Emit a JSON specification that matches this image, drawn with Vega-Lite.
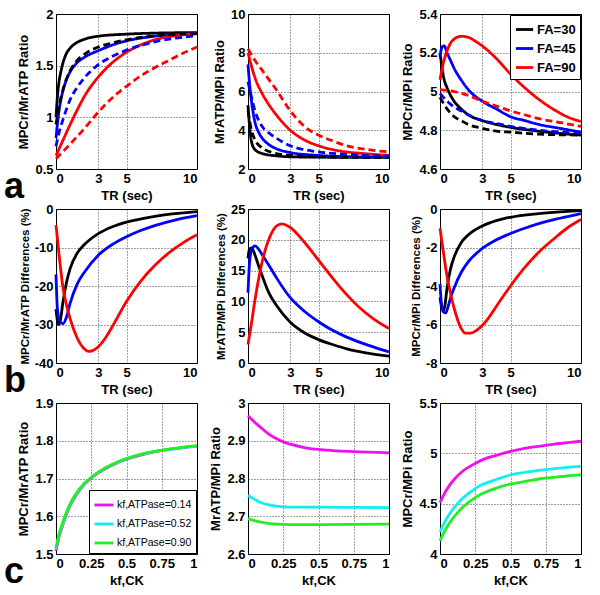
{
"$schema":"https://vega.github.io/schema/vega-lite/v6.json",
"padding":{"left":3,"top":7,"right":5,"bottom":3},
"background":"white",
"config":{
 "view":{"stroke":"black","strokeWidth":1},
 "axis":{"grid":true,"gridDash":[1,2],"gridColor":"black","gridOpacity":0.75,"gridWidth":1,"domain":false,"ticks":false,"labelFont":"Liberation Sans","labelFontSize":13,"labelFontWeight":"bold","labelColor":"black","labelPadding":3,"titleFont":"Liberation Sans","titleFontSize":13,"titleFontWeight":"bold","titleColor":"black","titlePadding":4,"labelExpr":"'' + datum.value"},
 "legend":{"strokeColor":"black","fillColor":"white","padding":4,"labelFont":"Liberation Sans","labelFontSize":13,"labelFontWeight":"bold","labelColor":"black","symbolType":"stroke","symbolStrokeWidth":2.2,"symbolSize":300,"rowPadding":1,"labelOffset":2,"offset":1},
 "line":{"strokeWidth":2.8,"interpolate":"monotone","clip":true}
},
"datasets":{
"a1":[
{"x":0,"y":1.0,"s":"FA=30","d":"s"},{"x":0.1,"y":1.2,"s":"FA=30","d":"s"},{"x":0.2,"y":1.33,"s":"FA=30","d":"s"},{"x":0.36,"y":1.45,"s":"FA=30","d":"s"},{"x":0.5,"y":1.53,"s":"FA=30","d":"s"},{"x":0.71,"y":1.61,"s":"FA=30","d":"s"},{"x":1,"y":1.67,"s":"FA=30","d":"s"},{"x":1.43,"y":1.72,"s":"FA=30","d":"s"},{"x":2,"y":1.755,"s":"FA=30","d":"s"},{"x":3,"y":1.785,"s":"FA=30","d":"s"},{"x":5,"y":1.805,"s":"FA=30","d":"s"},{"x":7,"y":1.815,"s":"FA=30","d":"s"},{"x":10,"y":1.82,"s":"FA=30","d":"s"},
{"x":0,"y":0.8,"s":"FA=45","d":"s"},{"x":0.2,"y":1.05,"s":"FA=45","d":"s"},{"x":0.36,"y":1.18,"s":"FA=45","d":"s"},{"x":0.5,"y":1.26,"s":"FA=45","d":"s"},{"x":0.7,"y":1.35,"s":"FA=45","d":"s"},{"x":1,"y":1.44,"s":"FA=45","d":"s"},{"x":1.43,"y":1.52,"s":"FA=45","d":"s"},{"x":2,"y":1.58,"s":"FA=45","d":"s"},{"x":3,"y":1.645,"s":"FA=45","d":"s"},{"x":4,"y":1.7,"s":"FA=45","d":"s"},{"x":5,"y":1.74,"s":"FA=45","d":"s"},{"x":7,"y":1.785,"s":"FA=45","d":"s"},{"x":10,"y":1.81,"s":"FA=45","d":"s"},
{"x":0,"y":0.63,"s":"FA=90","d":"s"},{"x":0.5,"y":0.78,"s":"FA=90","d":"s"},{"x":1,"y":0.93,"s":"FA=90","d":"s"},{"x":1.5,"y":1.07,"s":"FA=90","d":"s"},{"x":2,"y":1.2,"s":"FA=90","d":"s"},{"x":3,"y":1.39,"s":"FA=90","d":"s"},{"x":4,"y":1.53,"s":"FA=90","d":"s"},{"x":5,"y":1.63,"s":"FA=90","d":"s"},{"x":6,"y":1.7,"s":"FA=90","d":"s"},{"x":7,"y":1.75,"s":"FA=90","d":"s"},{"x":8.5,"y":1.79,"s":"FA=90","d":"s"},{"x":10,"y":1.81,"s":"FA=90","d":"s"},
{"x":0,"y":0.93,"s":"FA=30","d":"d"},{"x":0.25,"y":1.13,"s":"FA=30","d":"d"},{"x":0.5,"y":1.27,"s":"FA=30","d":"d"},{"x":1,"y":1.45,"s":"FA=30","d":"d"},{"x":1.5,"y":1.55,"s":"FA=30","d":"d"},{"x":2,"y":1.61,"s":"FA=30","d":"d"},{"x":3,"y":1.68,"s":"FA=30","d":"d"},{"x":4,"y":1.72,"s":"FA=30","d":"d"},{"x":5,"y":1.75,"s":"FA=30","d":"d"},{"x":7,"y":1.79,"s":"FA=30","d":"d"},{"x":10,"y":1.81,"s":"FA=30","d":"d"},
{"x":0,"y":0.72,"s":"FA=45","d":"d"},{"x":0.25,"y":0.87,"s":"FA=45","d":"d"},{"x":0.5,"y":0.98,"s":"FA=45","d":"d"},{"x":1,"y":1.17,"s":"FA=45","d":"d"},{"x":1.5,"y":1.29,"s":"FA=45","d":"d"},{"x":2,"y":1.38,"s":"FA=45","d":"d"},{"x":3,"y":1.51,"s":"FA=45","d":"d"},{"x":4,"y":1.59,"s":"FA=45","d":"d"},{"x":5,"y":1.65,"s":"FA=45","d":"d"},{"x":7,"y":1.73,"s":"FA=45","d":"d"},{"x":10,"y":1.79,"s":"FA=45","d":"d"},
{"x":0,"y":0.6,"s":"FA=90","d":"d"},{"x":1,"y":0.74,"s":"FA=90","d":"d"},{"x":2,"y":0.89,"s":"FA=90","d":"d"},{"x":3,"y":1.05,"s":"FA=90","d":"d"},{"x":4,"y":1.19,"s":"FA=90","d":"d"},{"x":5,"y":1.3,"s":"FA=90","d":"d"},{"x":6,"y":1.4,"s":"FA=90","d":"d"},{"x":7,"y":1.48,"s":"FA=90","d":"d"},{"x":8,"y":1.55,"s":"FA=90","d":"d"},{"x":9,"y":1.62,"s":"FA=90","d":"d"},{"x":10,"y":1.68,"s":"FA=90","d":"d"}
],
"a2":[
{"x":0,"y":5.3,"s":"FA=30","d":"s"},{"x":0.1,"y":4.3,"s":"FA=30","d":"s"},{"x":0.25,"y":3.4,"s":"FA=30","d":"s"},{"x":0.5,"y":3.0,"s":"FA=30","d":"s"},{"x":1,"y":2.8,"s":"FA=30","d":"s"},{"x":2,"y":2.68,"s":"FA=30","d":"s"},{"x":3,"y":2.63,"s":"FA=30","d":"s"},{"x":5,"y":2.61,"s":"FA=30","d":"s"},{"x":10,"y":2.6,"s":"FA=30","d":"s"},
{"x":0,"y":7.4,"s":"FA=45","d":"s"},{"x":0.1,"y":6.5,"s":"FA=45","d":"s"},{"x":0.25,"y":5.5,"s":"FA=45","d":"s"},{"x":0.5,"y":4.4,"s":"FA=45","d":"s"},{"x":0.75,"y":3.9,"s":"FA=45","d":"s"},{"x":1,"y":3.6,"s":"FA=45","d":"s"},{"x":1.5,"y":3.25,"s":"FA=45","d":"s"},{"x":2,"y":3.05,"s":"FA=45","d":"s"},{"x":3,"y":2.85,"s":"FA=45","d":"s"},{"x":5,"y":2.7,"s":"FA=45","d":"s"},{"x":7,"y":2.64,"s":"FA=45","d":"s"},{"x":10,"y":2.62,"s":"FA=45","d":"s"},
{"x":0,"y":8.0,"s":"FA=90","d":"s"},{"x":0.25,"y":7.3,"s":"FA=90","d":"s"},{"x":0.5,"y":6.7,"s":"FA=90","d":"s"},{"x":1,"y":5.9,"s":"FA=90","d":"s"},{"x":1.5,"y":5.3,"s":"FA=90","d":"s"},{"x":2,"y":4.8,"s":"FA=90","d":"s"},{"x":3,"y":4.0,"s":"FA=90","d":"s"},{"x":4,"y":3.5,"s":"FA=90","d":"s"},{"x":5,"y":3.2,"s":"FA=90","d":"s"},{"x":6,"y":3.0,"s":"FA=90","d":"s"},{"x":7,"y":2.88,"s":"FA=90","d":"s"},{"x":8.5,"y":2.78,"s":"FA=90","d":"s"},{"x":10,"y":2.7,"s":"FA=90","d":"s"},
{"x":0,"y":5.0,"s":"FA=30","d":"d"},{"x":0.25,"y":4.0,"s":"FA=30","d":"d"},{"x":0.5,"y":3.5,"s":"FA=30","d":"d"},{"x":1,"y":3.1,"s":"FA=30","d":"d"},{"x":2,"y":2.8,"s":"FA=30","d":"d"},{"x":3,"y":2.7,"s":"FA=30","d":"d"},{"x":5,"y":2.63,"s":"FA=30","d":"d"},{"x":10,"y":2.6,"s":"FA=30","d":"d"},
{"x":0,"y":6.5,"s":"FA=45","d":"d"},{"x":0.25,"y":5.7,"s":"FA=45","d":"d"},{"x":0.5,"y":5.0,"s":"FA=45","d":"d"},{"x":1,"y":4.2,"s":"FA=45","d":"d"},{"x":1.5,"y":3.85,"s":"FA=45","d":"d"},{"x":2,"y":3.6,"s":"FA=45","d":"d"},{"x":3,"y":3.2,"s":"FA=45","d":"d"},{"x":4,"y":3.0,"s":"FA=45","d":"d"},{"x":5,"y":2.88,"s":"FA=45","d":"d"},{"x":7,"y":2.75,"s":"FA=45","d":"d"},{"x":10,"y":2.67,"s":"FA=45","d":"d"},
{"x":0,"y":8.2,"s":"FA=90","d":"d"},{"x":0.5,"y":7.6,"s":"FA=90","d":"d"},{"x":1,"y":7.1,"s":"FA=90","d":"d"},{"x":1.5,"y":6.6,"s":"FA=90","d":"d"},{"x":2,"y":6.1,"s":"FA=90","d":"d"},{"x":3,"y":5.0,"s":"FA=90","d":"d"},{"x":4,"y":4.2,"s":"FA=90","d":"d"},{"x":5,"y":3.75,"s":"FA=90","d":"d"},{"x":6,"y":3.45,"s":"FA=90","d":"d"},{"x":7,"y":3.2,"s":"FA=90","d":"d"},{"x":8.5,"y":3.0,"s":"FA=90","d":"d"},{"x":10,"y":2.88,"s":"FA=90","d":"d"}
],
"a3":[
{"x":0,"y":5.2,"s":"FA=30","d":"s"},{"x":0.15,"y":5.12,"s":"FA=30","d":"s"},{"x":0.3,"y":5.06,"s":"FA=30","d":"s"},{"x":0.5,"y":5.02,"s":"FA=30","d":"s"},{"x":0.75,"y":4.98,"s":"FA=30","d":"s"},{"x":1,"y":4.95,"s":"FA=30","d":"s"},{"x":1.5,"y":4.91,"s":"FA=30","d":"s"},{"x":2,"y":4.88,"s":"FA=30","d":"s"},{"x":3,"y":4.85,"s":"FA=30","d":"s"},{"x":4,"y":4.83,"s":"FA=30","d":"s"},{"x":5,"y":4.815,"s":"FA=30","d":"s"},{"x":7,"y":4.795,"s":"FA=30","d":"s"},{"x":10,"y":4.775,"s":"FA=30","d":"s"},
{"x":0,"y":5.18,"s":"FA=45","d":"s"},{"x":0.15,"y":5.23,"s":"FA=45","d":"s"},{"x":0.3,"y":5.235,"s":"FA=45","d":"s"},{"x":0.5,"y":5.2,"s":"FA=45","d":"s"},{"x":0.75,"y":5.16,"s":"FA=45","d":"s"},{"x":1,"y":5.12,"s":"FA=45","d":"s"},{"x":1.5,"y":5.06,"s":"FA=45","d":"s"},{"x":2,"y":5.01,"s":"FA=45","d":"s"},{"x":3,"y":4.95,"s":"FA=45","d":"s"},{"x":4,"y":4.91,"s":"FA=45","d":"s"},{"x":5,"y":4.87,"s":"FA=45","d":"s"},{"x":6,"y":4.85,"s":"FA=45","d":"s"},{"x":7,"y":4.83,"s":"FA=45","d":"s"},{"x":8.5,"y":4.81,"s":"FA=45","d":"s"},{"x":10,"y":4.79,"s":"FA=45","d":"s"},
{"x":0,"y":5.06,"s":"FA=90","d":"s"},{"x":0.25,"y":5.15,"s":"FA=90","d":"s"},{"x":0.5,"y":5.21,"s":"FA=90","d":"s"},{"x":0.75,"y":5.25,"s":"FA=90","d":"s"},{"x":1,"y":5.27,"s":"FA=90","d":"s"},{"x":1.5,"y":5.285,"s":"FA=90","d":"s"},{"x":2,"y":5.28,"s":"FA=90","d":"s"},{"x":2.5,"y":5.26,"s":"FA=90","d":"s"},{"x":3,"y":5.235,"s":"FA=90","d":"s"},{"x":4,"y":5.17,"s":"FA=90","d":"s"},{"x":5,"y":5.09,"s":"FA=90","d":"s"},{"x":6,"y":5.02,"s":"FA=90","d":"s"},{"x":7,"y":4.96,"s":"FA=90","d":"s"},{"x":8,"y":4.91,"s":"FA=90","d":"s"},{"x":9,"y":4.87,"s":"FA=90","d":"s"},{"x":10,"y":4.845,"s":"FA=90","d":"s"},
{"x":0,"y":4.97,"s":"FA=30","d":"d"},{"x":0.5,"y":4.91,"s":"FA=30","d":"d"},{"x":1,"y":4.87,"s":"FA=30","d":"d"},{"x":1.5,"y":4.85,"s":"FA=30","d":"d"},{"x":2,"y":4.83,"s":"FA=30","d":"d"},{"x":3,"y":4.81,"s":"FA=30","d":"d"},{"x":4,"y":4.795,"s":"FA=30","d":"d"},{"x":5,"y":4.79,"s":"FA=30","d":"d"},{"x":7,"y":4.78,"s":"FA=30","d":"d"},{"x":10,"y":4.775,"s":"FA=30","d":"d"},
{"x":0,"y":4.99,"s":"FA=45","d":"d"},{"x":0.5,"y":4.95,"s":"FA=45","d":"d"},{"x":1,"y":4.92,"s":"FA=45","d":"d"},{"x":1.5,"y":4.9,"s":"FA=45","d":"d"},{"x":2,"y":4.88,"s":"FA=45","d":"d"},{"x":3,"y":4.85,"s":"FA=45","d":"d"},{"x":4,"y":4.835,"s":"FA=45","d":"d"},{"x":5,"y":4.82,"s":"FA=45","d":"d"},{"x":7,"y":4.8,"s":"FA=45","d":"d"},{"x":10,"y":4.785,"s":"FA=45","d":"d"},
{"x":0,"y":5.01,"s":"FA=90","d":"d"},{"x":1,"y":5.0,"s":"FA=90","d":"d"},{"x":2,"y":4.98,"s":"FA=90","d":"d"},{"x":3,"y":4.95,"s":"FA=90","d":"d"},{"x":4,"y":4.925,"s":"FA=90","d":"d"},{"x":5,"y":4.9,"s":"FA=90","d":"d"},{"x":6,"y":4.88,"s":"FA=90","d":"d"},{"x":7,"y":4.86,"s":"FA=90","d":"d"},{"x":8.5,"y":4.84,"s":"FA=90","d":"d"},{"x":10,"y":4.82,"s":"FA=90","d":"d"}
],
"b1":[
{"x":0,"y":-26,"s":"FA=30"},{"x":0.1,"y":-29,"s":"FA=30"},{"x":0.2,"y":-30,"s":"FA=30"},{"x":0.3,"y":-29,"s":"FA=30"},{"x":0.5,"y":-24,"s":"FA=30"},{"x":0.75,"y":-19,"s":"FA=30"},{"x":1,"y":-15.5,"s":"FA=30"},{"x":1.5,"y":-11.5,"s":"FA=30"},{"x":2,"y":-9.3,"s":"FA=30"},{"x":3,"y":-6.4,"s":"FA=30"},{"x":4,"y":-4.6,"s":"FA=30"},{"x":5,"y":-3.4,"s":"FA=30"},{"x":7,"y":-1.9,"s":"FA=30"},{"x":10,"y":-0.7,"s":"FA=30"},
{"x":0,"y":-17,"s":"FA=45"},{"x":0.1,"y":-26,"s":"FA=45"},{"x":0.25,"y":-29,"s":"FA=45"},{"x":0.5,"y":-29.8,"s":"FA=45"},{"x":0.75,"y":-28,"s":"FA=45"},{"x":1,"y":-24.5,"s":"FA=45"},{"x":1.5,"y":-19.5,"s":"FA=45"},{"x":2,"y":-16.5,"s":"FA=45"},{"x":3,"y":-12,"s":"FA=45"},{"x":4,"y":-9.2,"s":"FA=45"},{"x":5,"y":-7.2,"s":"FA=45"},{"x":6,"y":-5.6,"s":"FA=45"},{"x":7,"y":-4.3,"s":"FA=45"},{"x":8.5,"y":-2.8,"s":"FA=45"},{"x":10,"y":-1.7,"s":"FA=45"},
{"x":0,"y":-4.2,"s":"FA=90"},{"x":0.25,"y":-13,"s":"FA=90"},{"x":0.5,"y":-20.5,"s":"FA=90"},{"x":0.75,"y":-25,"s":"FA=90"},{"x":1,"y":-28.5,"s":"FA=90"},{"x":1.5,"y":-33.5,"s":"FA=90"},{"x":2,"y":-36.3,"s":"FA=90"},{"x":2.3,"y":-37,"s":"FA=90"},{"x":2.6,"y":-36.8,"s":"FA=90"},{"x":3,"y":-35.8,"s":"FA=90"},{"x":3.5,"y":-33.5,"s":"FA=90"},{"x":4,"y":-30.5,"s":"FA=90"},{"x":5,"y":-24,"s":"FA=90"},{"x":6,"y":-18.8,"s":"FA=90"},{"x":7,"y":-14.7,"s":"FA=90"},{"x":8,"y":-11.4,"s":"FA=90"},{"x":9,"y":-8.8,"s":"FA=90"},{"x":10,"y":-6.7,"s":"FA=90"}
],
"b2":[
{"x":0,"y":17,"s":"FA=30"},{"x":0.1,"y":18.5,"s":"FA=30"},{"x":0.25,"y":18.7,"s":"FA=30"},{"x":0.5,"y":17.5,"s":"FA=30"},{"x":0.75,"y":15.8,"s":"FA=30"},{"x":1,"y":14.2,"s":"FA=30"},{"x":1.5,"y":11.3,"s":"FA=30"},{"x":2,"y":9.4,"s":"FA=30"},{"x":3,"y":6.6,"s":"FA=30"},{"x":4,"y":4.9,"s":"FA=30"},{"x":5,"y":3.8,"s":"FA=30"},{"x":6,"y":3,"s":"FA=30"},{"x":7,"y":2.3,"s":"FA=30"},{"x":8.5,"y":1.6,"s":"FA=30"},{"x":10,"y":1.1,"s":"FA=30"},
{"x":0,"y":11.4,"s":"FA=45"},{"x":0.1,"y":16,"s":"FA=45"},{"x":0.25,"y":18.3,"s":"FA=45"},{"x":0.5,"y":19,"s":"FA=45"},{"x":0.75,"y":18.5,"s":"FA=45"},{"x":1,"y":17.6,"s":"FA=45"},{"x":1.5,"y":15.8,"s":"FA=45"},{"x":2,"y":13.9,"s":"FA=45"},{"x":3,"y":10.6,"s":"FA=45"},{"x":4,"y":8.4,"s":"FA=45"},{"x":5,"y":6.7,"s":"FA=45"},{"x":6,"y":5.3,"s":"FA=45"},{"x":7,"y":4.2,"s":"FA=45"},{"x":8.5,"y":2.9,"s":"FA=45"},{"x":10,"y":1.8,"s":"FA=45"},
{"x":0,"y":3,"s":"FA=90"},{"x":0.25,"y":6.5,"s":"FA=90"},{"x":0.5,"y":10.3,"s":"FA=90"},{"x":0.75,"y":13.6,"s":"FA=90"},{"x":1,"y":16.4,"s":"FA=90"},{"x":1.5,"y":20.2,"s":"FA=90"},{"x":2,"y":22.2,"s":"FA=90"},{"x":2.4,"y":22.6,"s":"FA=90"},{"x":3,"y":22,"s":"FA=90"},{"x":4,"y":19.6,"s":"FA=90"},{"x":5,"y":16.7,"s":"FA=90"},{"x":6,"y":13.8,"s":"FA=90"},{"x":7,"y":11.1,"s":"FA=90"},{"x":8,"y":8.8,"s":"FA=90"},{"x":9,"y":7,"s":"FA=90"},{"x":10,"y":5.6,"s":"FA=90"}
],
"b3":[
{"x":0,"y":-4.6,"s":"FA=30"},{"x":0.15,"y":-5.2,"s":"FA=30"},{"x":0.25,"y":-5.3,"s":"FA=30"},{"x":0.35,"y":-5.0,"s":"FA=30"},{"x":0.5,"y":-4.1,"s":"FA=30"},{"x":0.75,"y":-3.1,"s":"FA=30"},{"x":1,"y":-2.5,"s":"FA=30"},{"x":1.5,"y":-1.75,"s":"FA=30"},{"x":2,"y":-1.35,"s":"FA=30"},{"x":3,"y":-0.88,"s":"FA=30"},{"x":4,"y":-0.6,"s":"FA=30"},{"x":5,"y":-0.43,"s":"FA=30"},{"x":7,"y":-0.24,"s":"FA=30"},{"x":10,"y":-0.08,"s":"FA=30"},
{"x":0,"y":-3.9,"s":"FA=45"},{"x":0.1,"y":-4.9,"s":"FA=45"},{"x":0.25,"y":-5.35,"s":"FA=45"},{"x":0.4,"y":-5.4,"s":"FA=45"},{"x":0.6,"y":-5.0,"s":"FA=45"},{"x":0.8,"y":-4.5,"s":"FA=45"},{"x":1,"y":-4.1,"s":"FA=45"},{"x":1.5,"y":-3.3,"s":"FA=45"},{"x":2,"y":-2.75,"s":"FA=45"},{"x":3,"y":-2.05,"s":"FA=45"},{"x":4,"y":-1.6,"s":"FA=45"},{"x":5,"y":-1.27,"s":"FA=45"},{"x":6,"y":-1.0,"s":"FA=45"},{"x":7,"y":-0.76,"s":"FA=45"},{"x":8.5,"y":-0.48,"s":"FA=45"},{"x":10,"y":-0.24,"s":"FA=45"},
{"x":0,"y":-1.0,"s":"FA=90"},{"x":0.25,"y":-2.3,"s":"FA=90"},{"x":0.5,"y":-3.5,"s":"FA=90"},{"x":0.75,"y":-4.4,"s":"FA=90"},{"x":1,"y":-5.15,"s":"FA=90"},{"x":1.5,"y":-6.2,"s":"FA=90"},{"x":1.8,"y":-6.45,"s":"FA=90"},{"x":2.2,"y":-6.45,"s":"FA=90"},{"x":2.6,"y":-6.3,"s":"FA=90"},{"x":3,"y":-6.05,"s":"FA=90"},{"x":3.5,"y":-5.6,"s":"FA=90"},{"x":4,"y":-5.05,"s":"FA=90"},{"x":5,"y":-4.0,"s":"FA=90"},{"x":6,"y":-3.05,"s":"FA=90"},{"x":7,"y":-2.25,"s":"FA=90"},{"x":8,"y":-1.6,"s":"FA=90"},{"x":9,"y":-1.0,"s":"FA=90"},{"x":10,"y":-0.55,"s":"FA=90"}
],
"c1":[
{"x":0,"y":1.508,"s":"kf,ATPase=0.14"},{"x":0.02,"y":1.543,"s":"kf,ATPase=0.14"},{"x":0.05,"y":1.579,"s":"kf,ATPase=0.14"},{"x":0.1,"y":1.628,"s":"kf,ATPase=0.14"},{"x":0.15,"y":1.66,"s":"kf,ATPase=0.14"},{"x":0.2,"y":1.684,"s":"kf,ATPase=0.14"},{"x":0.25,"y":1.701,"s":"kf,ATPase=0.14"},{"x":0.3,"y":1.715,"s":"kf,ATPase=0.14"},{"x":0.4,"y":1.736,"s":"kf,ATPase=0.14"},{"x":0.5,"y":1.751,"s":"kf,ATPase=0.14"},{"x":0.6,"y":1.762,"s":"kf,ATPase=0.14"},{"x":0.7,"y":1.771,"s":"kf,ATPase=0.14"},{"x":0.8,"y":1.777,"s":"kf,ATPase=0.14"},{"x":0.9,"y":1.782,"s":"kf,ATPase=0.14"},{"x":1,"y":1.786,"s":"kf,ATPase=0.14"},
{"x":0,"y":1.512,"s":"kf,ATPase=0.52"},{"x":0.02,"y":1.547,"s":"kf,ATPase=0.52"},{"x":0.05,"y":1.582,"s":"kf,ATPase=0.52"},{"x":0.1,"y":1.63,"s":"kf,ATPase=0.52"},{"x":0.15,"y":1.662,"s":"kf,ATPase=0.52"},{"x":0.2,"y":1.685,"s":"kf,ATPase=0.52"},{"x":0.25,"y":1.702,"s":"kf,ATPase=0.52"},{"x":0.3,"y":1.716,"s":"kf,ATPase=0.52"},{"x":0.4,"y":1.737,"s":"kf,ATPase=0.52"},{"x":0.5,"y":1.752,"s":"kf,ATPase=0.52"},{"x":0.6,"y":1.763,"s":"kf,ATPase=0.52"},{"x":0.7,"y":1.771,"s":"kf,ATPase=0.52"},{"x":0.8,"y":1.777,"s":"kf,ATPase=0.52"},{"x":0.9,"y":1.782,"s":"kf,ATPase=0.52"},{"x":1,"y":1.786,"s":"kf,ATPase=0.52"},
{"x":0,"y":1.516,"s":"kf,ATPase=0.90"},{"x":0.02,"y":1.55,"s":"kf,ATPase=0.90"},{"x":0.05,"y":1.586,"s":"kf,ATPase=0.90"},{"x":0.1,"y":1.633,"s":"kf,ATPase=0.90"},{"x":0.15,"y":1.664,"s":"kf,ATPase=0.90"},{"x":0.2,"y":1.687,"s":"kf,ATPase=0.90"},{"x":0.25,"y":1.703,"s":"kf,ATPase=0.90"},{"x":0.3,"y":1.717,"s":"kf,ATPase=0.90"},{"x":0.4,"y":1.738,"s":"kf,ATPase=0.90"},{"x":0.5,"y":1.753,"s":"kf,ATPase=0.90"},{"x":0.6,"y":1.764,"s":"kf,ATPase=0.90"},{"x":0.7,"y":1.772,"s":"kf,ATPase=0.90"},{"x":0.8,"y":1.778,"s":"kf,ATPase=0.90"},{"x":0.9,"y":1.783,"s":"kf,ATPase=0.90"},{"x":1,"y":1.787,"s":"kf,ATPase=0.90"}
],
"c2":[
{"x":0,"y":2.966,"s":"kf,ATPase=0.14"},{"x":0.05,"y":2.948,"s":"kf,ATPase=0.14"},{"x":0.1,"y":2.932,"s":"kf,ATPase=0.14"},{"x":0.15,"y":2.917,"s":"kf,ATPase=0.14"},{"x":0.2,"y":2.906,"s":"kf,ATPase=0.14"},{"x":0.25,"y":2.897,"s":"kf,ATPase=0.14"},{"x":0.3,"y":2.891,"s":"kf,ATPase=0.14"},{"x":0.4,"y":2.882,"s":"kf,ATPase=0.14"},{"x":0.5,"y":2.877,"s":"kf,ATPase=0.14"},{"x":0.6,"y":2.874,"s":"kf,ATPase=0.14"},{"x":0.75,"y":2.871,"s":"kf,ATPase=0.14"},{"x":1,"y":2.868,"s":"kf,ATPase=0.14"},
{"x":0,"y":2.755,"s":"kf,ATPase=0.52"},{"x":0.05,"y":2.744,"s":"kf,ATPase=0.52"},{"x":0.1,"y":2.735,"s":"kf,ATPase=0.52"},{"x":0.15,"y":2.73,"s":"kf,ATPase=0.52"},{"x":0.2,"y":2.727,"s":"kf,ATPase=0.52"},{"x":0.3,"y":2.724,"s":"kf,ATPase=0.52"},{"x":0.5,"y":2.724,"s":"kf,ATPase=0.52"},{"x":1,"y":2.723,"s":"kf,ATPase=0.52"},
{"x":0,"y":2.693,"s":"kf,ATPase=0.90"},{"x":0.1,"y":2.684,"s":"kf,ATPase=0.90"},{"x":0.2,"y":2.679,"s":"kf,ATPase=0.90"},{"x":0.3,"y":2.678,"s":"kf,ATPase=0.90"},{"x":0.5,"y":2.678,"s":"kf,ATPase=0.90"},{"x":1,"y":2.679,"s":"kf,ATPase=0.90"}
],
"c3":[
{"x":0,"y":4.51,"s":"kf,ATPase=0.14"},{"x":0.05,"y":4.645,"s":"kf,ATPase=0.14"},{"x":0.1,"y":4.74,"s":"kf,ATPase=0.14"},{"x":0.15,"y":4.81,"s":"kf,ATPase=0.14"},{"x":0.2,"y":4.86,"s":"kf,ATPase=0.14"},{"x":0.25,"y":4.9,"s":"kf,ATPase=0.14"},{"x":0.3,"y":4.935,"s":"kf,ATPase=0.14"},{"x":0.4,"y":4.98,"s":"kf,ATPase=0.14"},{"x":0.5,"y":5.02,"s":"kf,ATPase=0.14"},{"x":0.6,"y":5.05,"s":"kf,ATPase=0.14"},{"x":0.7,"y":5.07,"s":"kf,ATPase=0.14"},{"x":0.8,"y":5.09,"s":"kf,ATPase=0.14"},{"x":0.9,"y":5.105,"s":"kf,ATPase=0.14"},{"x":1,"y":5.12,"s":"kf,ATPase=0.14"},
{"x":0,"y":4.22,"s":"kf,ATPase=0.52"},{"x":0.05,"y":4.36,"s":"kf,ATPase=0.52"},{"x":0.1,"y":4.46,"s":"kf,ATPase=0.52"},{"x":0.15,"y":4.54,"s":"kf,ATPase=0.52"},{"x":0.2,"y":4.6,"s":"kf,ATPase=0.52"},{"x":0.25,"y":4.65,"s":"kf,ATPase=0.52"},{"x":0.3,"y":4.69,"s":"kf,ATPase=0.52"},{"x":0.4,"y":4.74,"s":"kf,ATPase=0.52"},{"x":0.5,"y":4.785,"s":"kf,ATPase=0.52"},{"x":0.6,"y":4.81,"s":"kf,ATPase=0.52"},{"x":0.7,"y":4.83,"s":"kf,ATPase=0.52"},{"x":0.8,"y":4.845,"s":"kf,ATPase=0.52"},{"x":0.9,"y":4.86,"s":"kf,ATPase=0.52"},{"x":1,"y":4.87,"s":"kf,ATPase=0.52"},
{"x":0,"y":4.13,"s":"kf,ATPase=0.90"},{"x":0.05,"y":4.27,"s":"kf,ATPase=0.90"},{"x":0.1,"y":4.37,"s":"kf,ATPase=0.90"},{"x":0.15,"y":4.45,"s":"kf,ATPase=0.90"},{"x":0.2,"y":4.51,"s":"kf,ATPase=0.90"},{"x":0.25,"y":4.56,"s":"kf,ATPase=0.90"},{"x":0.3,"y":4.6,"s":"kf,ATPase=0.90"},{"x":0.4,"y":4.655,"s":"kf,ATPase=0.90"},{"x":0.5,"y":4.695,"s":"kf,ATPase=0.90"},{"x":0.6,"y":4.72,"s":"kf,ATPase=0.90"},{"x":0.7,"y":4.745,"s":"kf,ATPase=0.90"},{"x":0.8,"y":4.76,"s":"kf,ATPase=0.90"},{"x":0.9,"y":4.775,"s":"kf,ATPase=0.90"},{"x":1,"y":4.785,"s":"kf,ATPase=0.90"}
]
},
"columns":3,
"spacing":{"row":40,"column":51},
"bounds":"flush",
"resolve":{"scale":{"color":"independent","strokeDash":"independent"},"legend":{"color":"independent","strokeDash":"independent"}},
"concat":[
 {"width":141,"height":155,"data":{"name":"a1"},"mark":{"type":"line"},
  "title":{"text":"a","orient":"bottom","anchor":"start","frame":"group","font":"Liberation Sans","fontSize":36,"fontWeight":"bold","color":"black","dx":-52,"offset":-32},
  "encoding":{
   "x":{"field":"x","type":"quantitative","scale":{"domain":[0,10],"nice":false},"axis":{"values":[0,3,5,10],"title":"TR (sec)"}},
   "y":{"field":"y","type":"quantitative","scale":{"domain":[0.5,2],"nice":false,"zero":false},"axis":{"values":[0.5,1,1.5,2],"title":"MPCr/MrATP Ratio"}},
   "color":{"field":"s","type":"nominal","scale":{"domain":["FA=30","FA=45","FA=90"],"range":["#000000","#0000ff","#ff0000"]},"legend":null},
   "strokeDash":{"field":"d","type":"nominal","scale":{"domain":["s","d"],"range":[[1,0],[7,4]]},"legend":null}}},
 {"width":141,"height":155,"data":{"name":"a2"},"mark":{"type":"line"},
  "encoding":{
   "x":{"field":"x","type":"quantitative","scale":{"domain":[0,10],"nice":false},"axis":{"values":[0,3,5,10],"title":"TR (sec)"}},
   "y":{"field":"y","type":"quantitative","scale":{"domain":[2,10],"nice":false,"zero":false},"axis":{"values":[2,4,6,8,10],"title":"MrATP/MPi Ratio"}},
   "color":{"field":"s","type":"nominal","scale":{"domain":["FA=30","FA=45","FA=90"],"range":["#000000","#0000ff","#ff0000"]},"legend":null},
   "strokeDash":{"field":"d","type":"nominal","scale":{"domain":["s","d"],"range":[[1,0],[7,4]]},"legend":null}}},
 {"width":141,"height":155,"data":{"name":"a3"},"mark":{"type":"line"},
  "encoding":{
   "x":{"field":"x","type":"quantitative","scale":{"domain":[0,10],"nice":false},"axis":{"values":[0,3,5,10],"title":"TR (sec)"}},
   "y":{"field":"y","type":"quantitative","scale":{"domain":[4.6,5.4],"nice":false,"zero":false},"axis":{"values":[4.6,4.8,5,5.2,5.4],"title":"MPCr/MPi Ratio"}},
   "color":{"field":"s","type":"nominal","scale":{"domain":["FA=30","FA=45","FA=90"],"range":["#000000","#0000ff","#ff0000"]},"legend":{"orient":"top-right","title":null}},
   "strokeDash":{"field":"d","type":"nominal","scale":{"domain":["s","d"],"range":[[1,0],[7,4]]},"legend":null}}},
 {"width":141,"height":154,"data":{"name":"b1"},"mark":{"type":"line"},
  "title":{"text":"b","orient":"bottom","anchor":"start","frame":"group","font":"Liberation Sans","fontSize":36,"fontWeight":"bold","color":"black","dx":-52,"offset":-32},
  "encoding":{
   "x":{"field":"x","type":"quantitative","scale":{"domain":[0,10],"nice":false},"axis":{"values":[0,3,5,10],"title":"TR (sec)"}},
   "y":{"field":"y","type":"quantitative","scale":{"domain":[-40,0],"nice":false,"zero":false},"axis":{"values":[-40,-30,-20,-10,0],"title":"MPCr/MrATP Differences (%)","titleFontSize":11.5}},
   "color":{"field":"s","type":"nominal","scale":{"domain":["FA=30","FA=45","FA=90"],"range":["#000000","#0000ff","#ff0000"]},"legend":null}}},
 {"width":141,"height":154,"data":{"name":"b2"},"mark":{"type":"line"},
  "encoding":{
   "x":{"field":"x","type":"quantitative","scale":{"domain":[0,10],"nice":false},"axis":{"values":[0,3,5,10],"title":"TR (sec)"}},
   "y":{"field":"y","type":"quantitative","scale":{"domain":[0,25],"nice":false},"axis":{"values":[0,5,10,15,20,25],"title":"MrATP/MPi Differences (%)","titleFontSize":11.5}},
   "color":{"field":"s","type":"nominal","scale":{"domain":["FA=30","FA=45","FA=90"],"range":["#000000","#0000ff","#ff0000"]},"legend":null}}},
 {"width":141,"height":154,"data":{"name":"b3"},"mark":{"type":"line"},
  "encoding":{
   "x":{"field":"x","type":"quantitative","scale":{"domain":[0,10],"nice":false},"axis":{"values":[0,3,5,10],"title":"TR (sec)"}},
   "y":{"field":"y","type":"quantitative","scale":{"domain":[-8,0],"nice":false},"axis":{"values":[-8,-6,-4,-2,0],"title":"MPCr/MPi Differences (%)","titleFontSize":11.5}},
   "color":{"field":"s","type":"nominal","scale":{"domain":["FA=30","FA=45","FA=90"],"range":["#000000","#0000ff","#ff0000"]},"legend":null}}},
 {"width":141,"height":151,"data":{"name":"c1"},"mark":{"type":"line"},
  "title":{"text":"c","orient":"bottom","anchor":"start","frame":"group","font":"Liberation Sans","fontSize":36,"fontWeight":"bold","color":"black","dx":-52,"offset":-32},
  "encoding":{
   "x":{"field":"x","type":"quantitative","scale":{"domain":[0,1],"nice":false},"axis":{"values":[0,0.25,0.5,0.75,1],"title":"kf,CK"}},
   "y":{"field":"y","type":"quantitative","scale":{"domain":[1.5,1.9],"nice":false,"zero":false},"axis":{"values":[1.5,1.6,1.7,1.8,1.9],"title":"MPCr/MrATP Ratio"}},
   "color":{"field":"s","type":"nominal","scale":{"domain":["kf,ATPase=0.14","kf,ATPase=0.52","kf,ATPase=0.90"],"range":["#ee11ee","#11eeee","#22ee22"]},"legend":{"orient":"bottom-right","title":null,"labelFontSize":10.5,"labelFontWeight":"normal","symbolSize":360,"symbolStrokeWidth":2.8,"rowPadding":2}}}},
 {"width":141,"height":151,"data":{"name":"c2"},"mark":{"type":"line"},
  "encoding":{
   "x":{"field":"x","type":"quantitative","scale":{"domain":[0,1],"nice":false},"axis":{"values":[0,0.25,0.5,0.75,1],"title":"kf,CK"}},
   "y":{"field":"y","type":"quantitative","scale":{"domain":[2.6,3],"nice":false,"zero":false},"axis":{"values":[2.6,2.7,2.8,2.9,3],"title":"MrATP/MPi Ratio"}},
   "color":{"field":"s","type":"nominal","scale":{"domain":["kf,ATPase=0.14","kf,ATPase=0.52","kf,ATPase=0.90"],"range":["#ee11ee","#11eeee","#22ee22"]},"legend":null}}},
 {"width":141,"height":151,"data":{"name":"c3"},"mark":{"type":"line"},
  "encoding":{
   "x":{"field":"x","type":"quantitative","scale":{"domain":[0,1],"nice":false},"axis":{"values":[0,0.25,0.5,0.75,1],"title":"kf,CK"}},
   "y":{"field":"y","type":"quantitative","scale":{"domain":[4,5.5],"nice":false,"zero":false},"axis":{"values":[4,4.5,5,5.5],"title":"MPCr/MPi Ratio"}},
   "color":{"field":"s","type":"nominal","scale":{"domain":["kf,ATPase=0.14","kf,ATPase=0.52","kf,ATPase=0.90"],"range":["#ee11ee","#11eeee","#22ee22"]},"legend":null}}}
]
}
